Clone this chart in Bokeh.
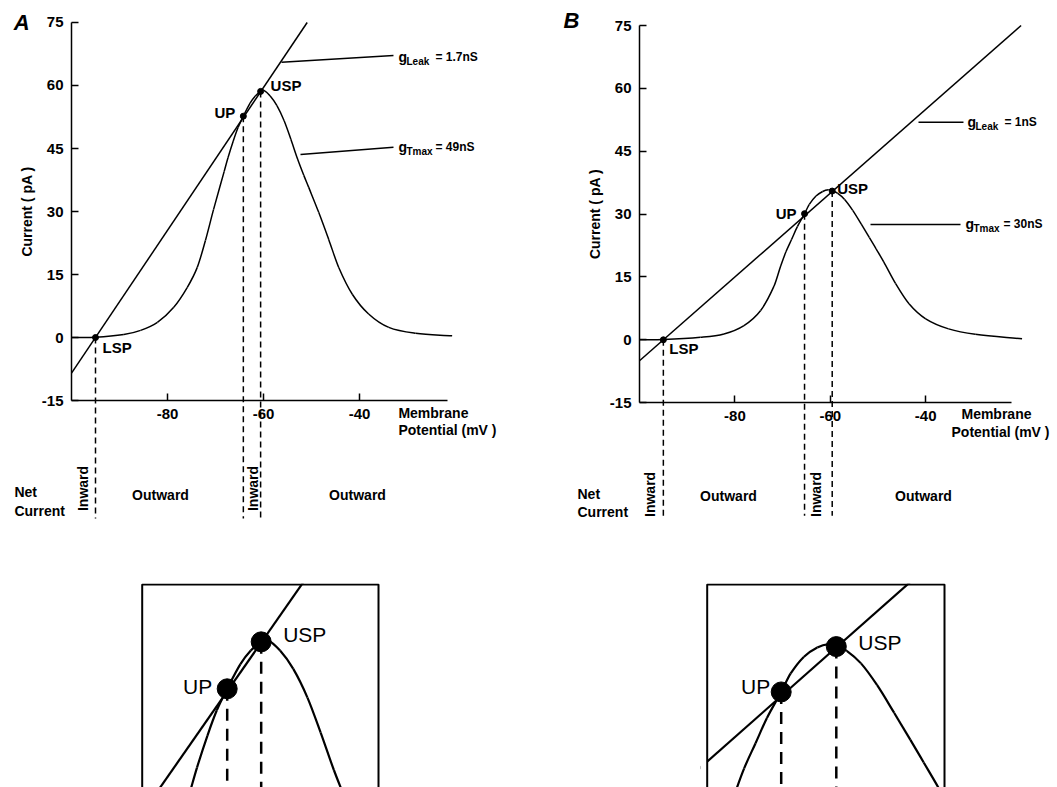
import math
from bokeh.plotting import figure
from bokeh.models import Range1d, LinearAxis, FixedTicker, BoxAnnotation, Spacer
from bokeh.layouts import column, row
from bokeh.core.properties import value
from bokeh.embed import file_html
from bokeh.resources import INLINE

# ---------------- data ----------------
y_ticks = [-15, 0, 15, 30, 45, 60, 75]
x_ticks = [-80, -60, -40]
point_names = ["LSP", "UP", "USP"]

# Panel A: gLeak = 1.7 nS, gTmax = 49 nS
volt_A = [-100.0, -95.0, -89.1, -85.6, -82.1, -78.7, -75.9, -73.8, -72.1, -70.4,
          -68.2, -67.4, -66.3, -65.3, -64.2, -62.8, -61.7, -60.6, -60.0, -58.6,
          -57.2, -55.7, -54.3, -52.9, -51.6, -50.6, -48.5, -46.4, -44.3, -41.5,
          -38.1, -33.9, -28.3, -20.7]
curr_A = [0.0, 0.05, 0.7, 1.7, 3.6, 7.2, 11.9, 16.7, 23.1, 30.5,
          39.5, 42.8, 46.8, 50.0, 52.7, 55.8, 57.5, 58.6, 58.9, 57.5,
          55.2, 51.6, 47.2, 42.5, 38.6, 35.8, 29.8, 23.3, 16.6, 10.3,
          5.6, 2.4, 1.0, 0.4]
leak_volt_A = [-100.0, -50.9]
leak_curr_A = [-8.5, 75.0]
pts_volt_A = [-95.0, -64.2, -60.6]
pts_curr_A = [0.0, 52.7, 58.6]
g_leak_A = "= 1.7nS"
g_tmax_A = "= 49nS"

# Panel B: gLeak = 1 nS, gTmax = 30 nS
volt_B = [-100.0, -95.0, -87.2, -82.3, -78.1, -74.6, -71.8, -70.4, -69.3, -68.1,
          -66.9, -65.4, -64.4, -63.0, -61.6, -60.4, -59.6, -58.5, -57.0, -55.3,
          -53.5, -51.8, -50.4, -48.8, -46.3, -43.5, -40.0, -35.2, -29.6, -19.8]
curr_B = [0.0, 0.05, 0.6, 1.4, 3.4, 7.0, 12.8, 17.6, 21.0, 24.0,
          27.0, 30.1, 32.3, 34.3, 35.4, 35.8, 35.6, 35.0, 33.5, 30.9,
          27.6, 24.4, 21.7, 18.6, 13.4, 8.6, 5.0, 2.6, 1.3, 0.25]
leak_volt_B = [-100.0, -20.0]
leak_curr_B = [-5.0, 75.0]
pts_volt_B = [-95.0, -65.4, -59.6]
pts_curr_B = [0.0, 30.1, 35.5]
g_leak_B = "= 1nS"
g_tmax_B = "= 30nS"

FONT = value("Liberation Sans")
TOP_H = 583
INSET_H = 204


def smooth_curve(p, xs, ys, width):
    """Draw the read points joined by smooth cubic (Hermite) segments."""
    n = len(xs)
    m = []
    for i in range(n):
        if i == 0:
            m.append((ys[1] - ys[0]) / (xs[1] - xs[0]))
        elif i == n - 1:
            m.append((ys[-1] - ys[-2]) / (xs[-1] - xs[-2]))
        else:
            m.append((ys[i + 1] - ys[i - 1]) / (xs[i + 1] - xs[i - 1]))
    x0, y0, x1, y1, cx0, cy0, cx1, cy1 = ([] for _ in range(8))
    for i in range(n - 1):
        h = xs[i + 1] - xs[i]
        x0.append(xs[i]); y0.append(ys[i])
        x1.append(xs[i + 1]); y1.append(ys[i + 1])
        cx0.append(xs[i] + h / 3); cy0.append(ys[i] + m[i] * h / 3)
        cx1.append(xs[i + 1] - h / 3); cy1.append(ys[i + 1] - m[i + 1] * h / 3)
    p.bezier(x0=x0, y0=y0, x1=x1, y1=y1, cx0=cx0, cy0=cy0, cx1=cx1, cy1=cy1,
             line_color="black", line_width=width)


def txt(p, x, y, s, size="14px", style="bold", align="left", baseline="middle",
        xo=0, yo=0, angle=0.0):
    p.text(x=[x], y=[y], text=[s], text_font=FONT, text_font_size=size,
           text_font_style=style, text_align=align, text_baseline=baseline,
           x_offset=xo, y_offset=yo, angle=angle, text_color="black")


def make_main(cfg):
    p = figure(width=cfg["w"], height=TOP_H,
               x_range=Range1d(*cfg["xr"]), y_range=Range1d(*cfg["yr"]),
               x_axis_type=None, y_axis_type=None,
               toolbar_location=None, output_backend="svg",
               min_border=0, min_border_left=0, min_border_right=0,
               min_border_top=0, min_border_bottom=0)
    p.outline_line_color = None
    p.background_fill_color = "white"
    p.border_fill_color = "white"

    common = dict(axis_line_width=1.5, axis_line_color="black",
                  major_tick_line_width=1.5, major_tick_line_color="black",
                  major_tick_in=7, major_tick_out=0,
                  minor_tick_line_color=None,
                  major_label_text_font="Liberation Sans",
                  major_label_text_font_style="bold",
                  major_label_text_font_size="15px",
                  major_label_text_color="black",
                  major_label_standoff=8)
    yaxis = LinearAxis(fixed_location=-100, bounds=(-15, 75),
                       ticker=FixedTicker(ticks=y_ticks, minor_ticks=[]),
                       major_label_overrides={t: str(t) for t in y_ticks},
                       axis_label="Current ( pA )",
                       axis_label_text_font="Liberation Sans",
                       axis_label_text_font_style="bold",
                       axis_label_text_font_size="14px",
                       axis_label_text_color="black",
                       axis_label_standoff=4, **common)
    p.add_layout(yaxis, "left")
    xaxis = LinearAxis(fixed_location=-15, bounds=(-100, cfg["xend"]),
                       ticker=FixedTicker(ticks=x_ticks, minor_ticks=[]),
                       major_label_overrides={t: str(t) for t in x_ticks},
                       **common)
    p.add_layout(xaxis, "below")

    pv, pc = cfg["pv"], cfg["pc"]
    p.line(cfg["lv"], cfg["lc"], line_color="black", line_width=1.5)
    smooth_curve(p, cfg["cv"], cfg["cc"], 1.5)
    p.segment(x0=pv, y0=pc, x1=pv, y1=[cfg["dash_bottom"]] * len(pv),
              line_color="black", line_width=1.5, line_dash="6 4")
    p.scatter(pv, pc, size=6, color="black")

    for i, (al, xo, yo) in enumerate(cfg["pt_lab"]):
        txt(p, pv[i], pc[i], point_names[i], size="15px", align=al, xo=xo, yo=yo)

    txt(p, cfg["letter_xy"][0], cfg["letter_xy"][1], cfg["letter"], size="22px",
        style="bold italic", align="center")

    for (x0, y0, x1, y1), (gx, gy), sub, rest, rest_off in cfg["g_labels"]:
        p.segment(x0=[x0], y0=[y0], x1=[x1], y1=[y1], line_color="black", line_width=1.5)
        txt(p, gx, gy, "g", size="14px", align="left")
        txt(p, gx, gy, sub, size="10px", align="left", xo=8, yo=4)
        txt(p, gx, gy, rest, size="12px", align="left", xo=rest_off)

    (mx, my), (px_, py_) = cfg["memb"]
    txt(p, mx, my, "Membrane", align="center")
    txt(p, px_, py_, "Potential (mV )", align="center")

    (nx, ny, cy) = cfg["net"]
    txt(p, nx, ny, "Net", align="left")
    txt(p, nx, cy, "Current", align="left")
    for (ox, oy) in cfg["outward"]:
        txt(p, ox, oy, "Outward", align="center")
    for (ix, iy) in cfg["inward"]:
        txt(p, ix, iy, "Inward", align="center", angle=math.pi / 2)
    return p


def make_inset(cfg):
    xr, yr = cfg["xr"], cfg["yr"]
    p = figure(width=cfg["w"], height=INSET_H,
               x_range=Range1d(*xr), y_range=Range1d(*yr),
               x_axis_type=None, y_axis_type=None,
               toolbar_location=None, output_backend="svg",
               min_border=0, min_border_left=0, min_border_right=0,
               min_border_top=0, min_border_bottom=0)
    p.outline_line_color = None
    p.background_fill_color = "white"
    p.border_fill_color = "white"
    pv, pc = cfg["pv"][1:], cfg["pc"][1:]
    p.line(cfg["lv"], cfg["lc"], line_color="black", line_width=2.2)
    smooth_curve(p, cfg["cv"], cfg["cc"], 2.2)
    p.segment(x0=pv, y0=pc, x1=pv, y1=[yr[0] - 3] * len(pv),
              line_color="black", line_width=2.5, line_dash="12 8")
    bl, br, bt = cfg["box"]
    lo_x, hi_x = xr[0] - 50, xr[1] + 50
    lo_y, hi_y = yr[0] - 50, yr[1] + 50
    # white masks outside the zoom window (curves end at the window border)
    p.quad(left=[lo_x, lo_x, br], right=[hi_x, bl, hi_x],
           bottom=[bt, lo_y, lo_y], top=[hi_y, hi_y, hi_y],
           fill_color="white", fill_alpha=1.0, line_color=None)
    p.scatter(pv, pc, size=20, color="black")
    for i, (al, xo, yo) in enumerate(cfg["lab"]):
        txt(p, pv[i], pc[i], point_names[i + 1], size="21px", style="normal",
            align=al, xo=xo, yo=yo)
    p.add_layout(BoxAnnotation(left=bl, right=br, top=bt, bottom=yr[0] - 20,
                               fill_alpha=0.0, fill_color=None,
                               line_color="black", line_width=2, line_alpha=1.0))
    return p


cfgA = dict(w=528, xr=(-114.792, -4.792), yr=(-58.571, 80.238), xend=-21.7,
            cv=volt_A, cc=curr_A, lv=leak_volt_A, lc=leak_curr_A,
            pv=pts_volt_A, pc=pts_curr_A, dash_bottom=-43.1,
            pt_lab=[("left", 7, 10), ("right", -8, -4), ("left", 10, -6)],
            letter="A", letter_xy=(-110.4, 75.0),
            g_labels=[((-56.25, 65.55, -32.92, 67.14), (-31.875, 66.7), "Leak", g_leak_A, 37),
                      ((-52.29, 43.57, -32.92, 45.31), (-31.875, 45.24), "Tmax", g_tmax_A, 37)],
            memb=((-24.6, -17.86), (-21.67, -22.14)),
            net=(-111.9, -36.8, -41.2),
            outward=[(-81.46, -37.6), (-40.42, -37.6)],
            inward=[(-97.6, -35.95), (-62.1, -35.95)])

cfgB = dict(w=529, xr=(-123.270, -12.369), yr=(-58.162, 80.979), xend=-22.0,
            cv=volt_B, cc=curr_B, lv=leak_volt_B, lc=leak_curr_B,
            pv=pts_volt_B, pc=pts_curr_B, dash_bottom=-42.0,
            pt_lab=[("left", 6, 9), ("right", -8, 0), ("left", 5, -3)],
            letter="B", letter_xy=(-114.26, 76.2),
            g_labels=[((-41.51, 51.9, -32.08, 51.9), (-31.24, 51.9), "Leak", g_leak_B, 37),
                      ((-51.57, 27.52, -32.70, 27.52), (-31.66, 27.52), "Tmax", g_tmax_B, 38)],
            memb=((-25.16, -17.8), (-24.32, -22.1)),
            net=(-113.0, -36.7, -41.1),
            outward=[(-81.34, -37.16), (-40.46, -37.16)],
            inward=[(-97.9, -36.9), (-63.1, -36.9)])

insA = dict(w=248, xr=(-73.808, -47.537), yr=(40.301, 65.929),
            cv=volt_A, cc=curr_A, lv=leak_volt_A, lc=leak_curr_A,
            pv=pts_volt_A, pc=pts_curr_A,
            lab=[("right", -15, -2), ("left", 22, -7)],
            box=(-73.204, -48.172, 65.803))
insB = dict(w=250, xr=(-73.895, -47.579), yr=(18.724, 43.010),
            cv=volt_B, cc=curr_B, lv=leak_volt_B, lc=leak_curr_B,
            pv=pts_volt_B, pc=pts_curr_B,
            lab=[("right", -11, -5), ("left", 22, -4)],
            box=(-73.19, -48.21, 42.89))

top = row(make_main(cfgA), make_main(cfgB))
bottom = row(Spacer(width=136, height=INSET_H), make_inset(insA),
             Spacer(width=316, height=INSET_H), make_inset(insB),
             Spacer(width=107, height=INSET_H))
layout = column(top, bottom)

open("out.html", "w").write(file_html(layout, INLINE))
